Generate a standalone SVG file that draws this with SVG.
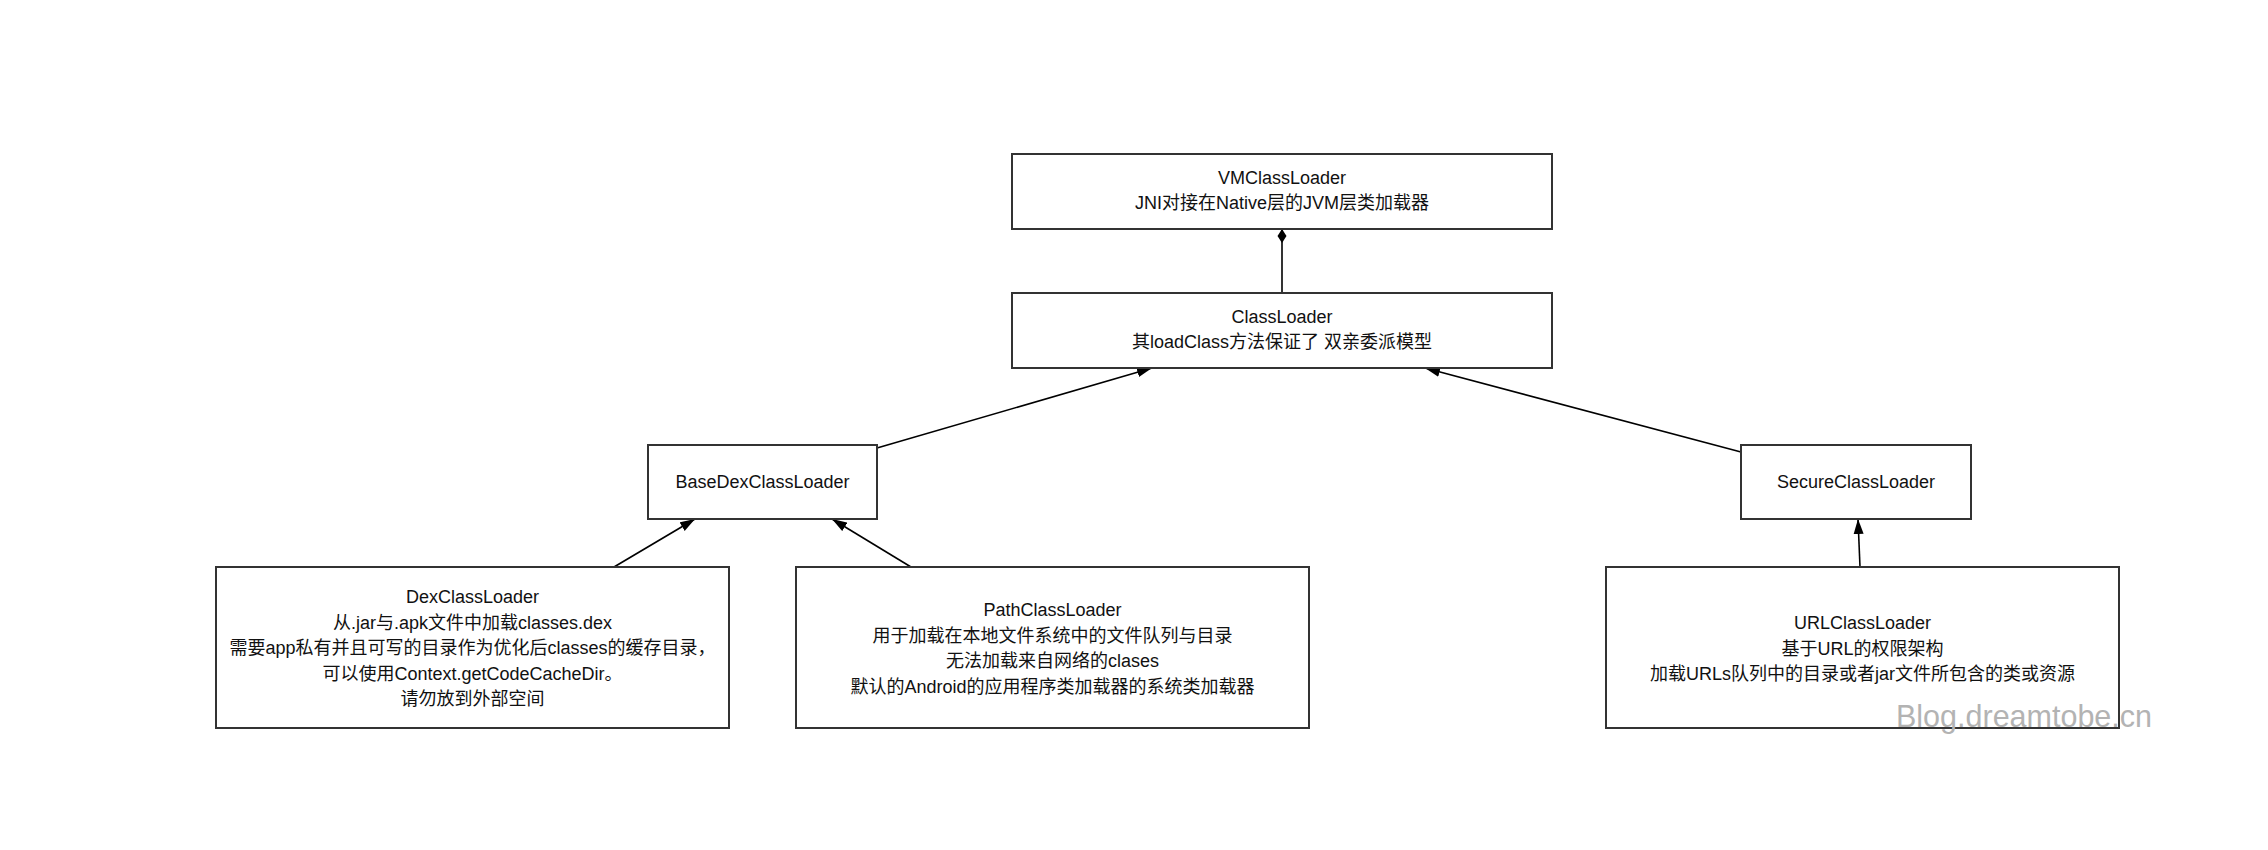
<svg xmlns="http://www.w3.org/2000/svg" width="2268" height="850" viewBox="0 0 2268 850">
<style>
.box{fill:#fff;stroke:#333;stroke-width:2}
.t{font-family:"Liberation Sans","Noto Sans CJK SC",sans-serif;font-size:18px;fill:#111;text-anchor:middle}
.c{fill:none;stroke:#000;stroke-width:1.6}
.wm{font-family:"Liberation Sans","Noto Sans CJK SC",sans-serif;font-size:30.5px;fill:#b3b3b3}
</style>
<defs>
<marker id="arr" markerUnits="userSpaceOnUse" markerWidth="15" markerHeight="11" refX="15" refY="5.5" orient="auto">
<path d="M0,0.5 L15,5.5 L0,10.5 z" fill="#000"/>
</marker>
<marker id="dia" markerUnits="userSpaceOnUse" markerWidth="15" markerHeight="10" refX="0.5" refY="5" orient="auto">
<path d="M0.5,5 L7.5,0.5 L14.5,5 L7.5,9.5 z" fill="#000"/>
</marker>
</defs>
<rect width="2268" height="850" fill="#fff"/>
<g id="connectors">
<line class="c" x1="1282" y1="229" x2="1282" y2="293" marker-start="url(#dia)"/>
<line class="c" x1="877" y1="448" x2="1152" y2="368" marker-end="url(#arr)"/>
<line class="c" x1="1741" y1="452" x2="1425" y2="368" marker-end="url(#arr)"/>
<line class="c" x1="614" y1="567" x2="695" y2="519" marker-end="url(#arr)"/>
<line class="c" x1="911" y1="567" x2="832" y2="519" marker-end="url(#arr)"/>
<line class="c" x1="1860" y1="567" x2="1858" y2="519" marker-end="url(#arr)"/>
</g>
<g id="vmclassloader">
<rect class="box" x="1012" y="154" width="540" height="75"/>
<text class="t" x="1282" y="184">VMClassLoader</text>
<text class="t" x="1282" y="209">JNI对接在Native层的JVM层类加载器</text>
</g>
<g id="classloader">
<rect class="box" x="1012" y="293" width="540" height="75"/>
<text class="t" x="1282" y="323">ClassLoader</text>
<text class="t" x="1282" y="348">其loadClass方法保证了 双亲委派模型</text>
</g>
<g id="basedexclassloader">
<rect class="box" x="648" y="445" width="229" height="74"/>
<text class="t" x="762.5" y="488">BaseDexClassLoader</text>
</g>
<g id="secureclassloader">
<rect class="box" x="1741" y="445" width="230" height="74"/>
<text class="t" x="1856" y="488">SecureClassLoader</text>
</g>
<g id="dexclassloader">
<rect class="box" x="216" y="567" width="513" height="161"/>
<text class="t" x="472.5" y="603">DexClassLoader</text>
<text class="t" x="472.5" y="628.5">从.jar与.apk文件中加载classes.dex</text>
<text class="t" x="472.5" y="654">需要app私有并且可写的目录作为优化后classes的缓存目录，</text>
<text class="t" x="472.5" y="679.5">可以使用Context.getCodeCacheDir。</text>
<text class="t" x="472.5" y="705">请勿放到外部空间</text>
</g>
<g id="pathclassloader">
<rect class="box" x="796" y="567" width="513" height="161"/>
<text class="t" x="1052.5" y="616">PathClassLoader</text>
<text class="t" x="1052.5" y="641.5">用于加载在本地文件系统中的文件队列与目录</text>
<text class="t" x="1052.5" y="667">无法加载来自网络的clases</text>
<text class="t" x="1052.5" y="692.5">默认的Android的应用程序类加载器的系统类加载器</text>
</g>
<g id="urlclassloader">
<rect class="box" x="1606" y="567" width="513" height="161"/>
<text class="t" x="1862.5" y="629">URLClassLoader</text>
<text class="t" x="1862.5" y="654.5">基于URL的权限架构</text>
<text class="t" x="1862.5" y="680">加载URLs队列中的目录或者jar文件所包含的类或资源</text>
</g>
<text class="wm" x="1896" y="727">Blog.dreamtobe.cn</text>
</svg>
